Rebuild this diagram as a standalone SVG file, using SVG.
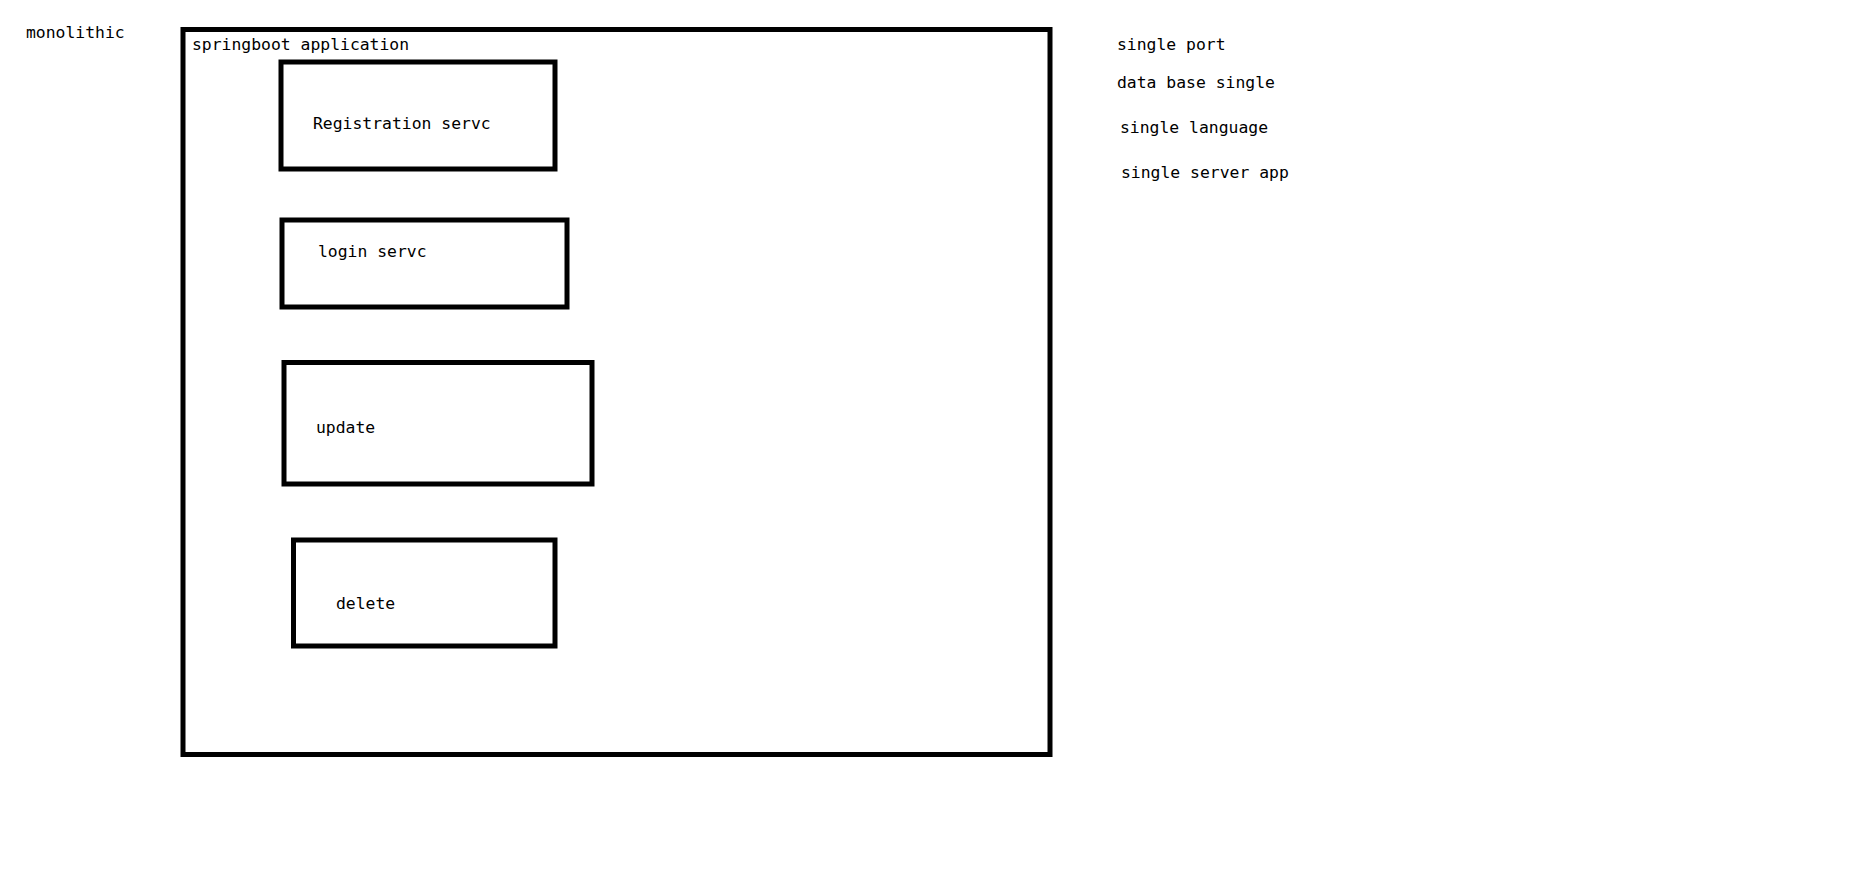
<svg xmlns="http://www.w3.org/2000/svg" width="1854" height="879" viewBox="0 0 1854 879">
<style>
.box{fill:none;stroke:#000;stroke-width:5}
.t{font-family:"DejaVu Sans Mono","Liberation Mono",monospace;font-size:16.4px;fill:#000}
</style>
<rect width="1854" height="879" fill="#fff"/>
<text class="t" x="26" y="38">monolithic</text>
<g id="app">
<rect class="box" x="183" y="29.5" width="867" height="725"/>
<text class="t" x="192" y="50">springboot application</text>
</g>
<g id="registration">
<rect class="box" x="281" y="62" width="274" height="107"/>
<text class="t" x="313" y="129">Registration servc</text>
</g>
<g id="login">
<rect class="box" x="282" y="220" width="285" height="87"/>
<text class="t" x="318" y="257">login servc</text>
</g>
<g id="update">
<rect class="box" x="284" y="362.5" width="308" height="121.5"/>
<text class="t" x="316" y="433">update</text>
</g>
<g id="delete">
<rect class="box" x="293.5" y="540" width="261.5" height="106"/>
<text class="t" x="336" y="609">delete</text>
</g>
<g id="connectors"/>
<g id="notes">
<text class="t" x="1117" y="50">single port</text>
<text class="t" x="1117" y="88">data base single</text>
<text class="t" x="1120" y="133">single language</text>
<text class="t" x="1121" y="178">single server app</text>
</g>
</svg>
